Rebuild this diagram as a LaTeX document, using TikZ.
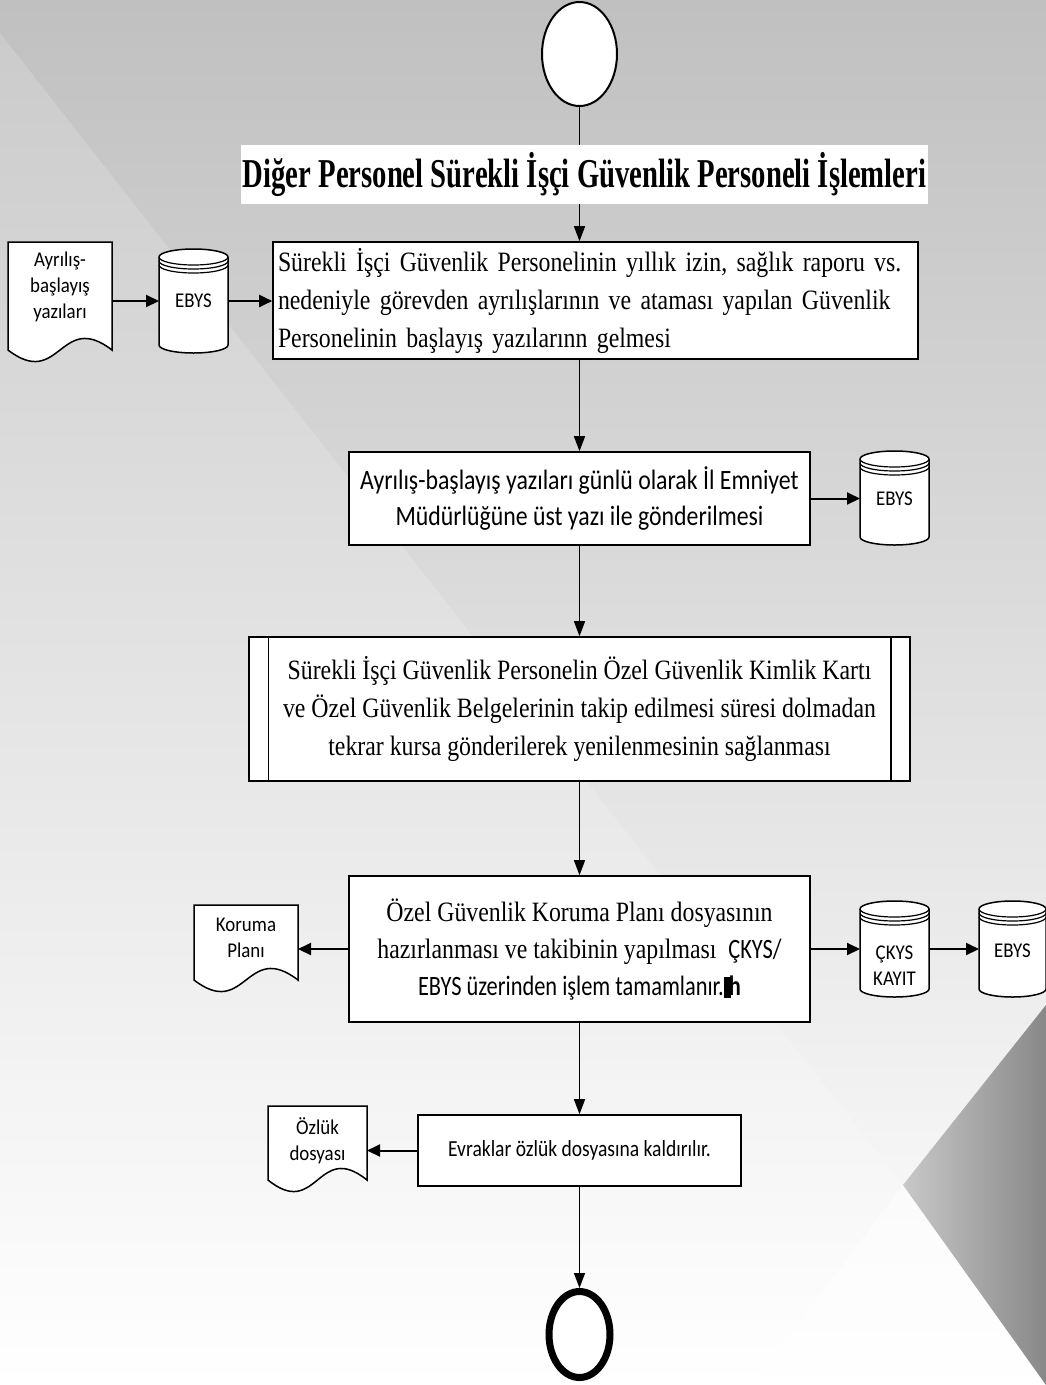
\documentclass[tikz,border=0pt]{standalone}
\usepackage{fontspec}
\setmainfont{Liberation Serif}
\newfontfamily\serifbody[FakeStretch=0.85]{Liberation Serif}
\newfontfamily\seriftitle[FakeStretch=0.70]{Liberation Serif}
\newfontfamily\sansbody[FakeStretch=0.85]{Carlito}
\newfontfamily\sansnarrow[FakeStretch=0.8]{Carlito}
\newfontfamily\sanssmall[FakeStretch=0.9]{Carlito}
\usetikzlibrary{arrows.meta,calc,shapes.geometric}

\definecolor{bgtop}{HTML}{C0C0C0}
\definecolor{bgmid}{HTML}{DCDCDC}
\definecolor{bandtop}{HTML}{CBCBCB}
\definecolor{bandmid}{HTML}{E3E3E3}
\definecolor{wedgelight}{HTML}{C8C8C8}
\definecolor{wedgedark}{HTML}{888888}

% database cylinder: left, top, right, bottom
\newcommand\dbshape[4]{%
  \path[draw, fill=white, line width=1.5pt]
    (#1,#2+8) -- (#1,#4-8)
    arc[start angle=180, end angle=0, x radius={(#3-#1)/2}, y radius=8]
    -- (#3,#2+8)
    arc[start angle=0, end angle=-180, x radius={(#3-#1)/2}, y radius=8]
    -- cycle;
  \draw[line width=1.2pt] (#1,#2+8) arc[start angle=180, end angle=0, x radius={(#3-#1)/2}, y radius=8];
  \draw[line width=1.2pt] (#1,#2+12) arc[start angle=180, end angle=0, x radius={(#3-#1)/2}, y radius=8];
  \draw[line width=1.2pt] (#1,#2+16) arc[start angle=180, end angle=0, x radius={(#3-#1)/2}, y radius=8];
}
% document sheet with wavy lower edge: left, top, right, side bottom
\newcommand\docshape[4]{%
  \path[draw, fill=white, line width=1.5pt]
    (#1,#4) -- (#1,#2) -- (#3,#2) -- (#3,#4)
    .. controls ({(#1+#3)/2},#4-40) and ({(#1+#3)/2},#4+40) .. (#1,#4) -- cycle;
}

\begin{document}
\begin{tikzpicture}[x=1pt,y=-1pt,
  box/.style={draw, line width=1.6pt, fill=white, inner sep=0pt, align=center},
  lbl/.style={inner sep=0pt, outer sep=0pt, align=center,
    font=\sanssmall\fontsize{21}{26}\selectfont},
  vline/.style={line width=1.4pt},
  vconn/.style={line width=1.4pt, -{Triangle[length=15pt,width=11pt]}},
  hconn/.style={line width=2pt, -{Triangle[length=13pt,width=12pt]}}]

\useasboundingbox (0,0) rectangle (1046,1385);

% background
\shade[top color=bgtop, middle color=bgmid, bottom color=white] (0,0) rectangle (1046,1385);
\shade[top color=bandtop, middle color=bandmid, bottom color=white]
  (0,33) -- (903,1185) -- (751,1385) -- (0,1385) -- cycle;
\fill[white, opacity=0.6] (903,1185) -- (751,1385) -- (1046,1385) -- cycle;
\shade[left color=wedgelight, right color=wedgedark]
  (903,1185) -- (1046,1005) -- (1046,1385) -- cycle;

% terminals
\node[draw, ellipse, line width=2pt, fill=white, minimum width=75pt,
  minimum height=104pt, inner sep=0pt] (start) at (579.5,54) {};
\node[draw, ellipse, line width=7pt, fill=white, minimum width=61pt,
  minimum height=86pt, inner sep=0pt] (end) at (579.5,1334.5) {};

% heading
\node[fill=white, inner sep=0pt, minimum width=687pt, minimum height=59pt,
  font=\seriftitle\bfseries\fontsize{41}{44}\selectfont] (title) at (584.5,174.5)
  {Diğer Personel Sürekli İşçi Güvenlik Personeli İşlemleri};

% process boxes
\node[box, minimum width=645pt, minimum height=117pt, text width=635pt, align=left,
  font=\serifbody\fontsize{28}{38}\selectfont] (b1) at (595.5,300.5)
  {\mbox{Sürekli İşçi Güvenlik Personelinin yıllık izin, sağlık raporu vs.}\\
   \mbox{nedeniyle görevden ayrılışlarının ve ataması yapılan Güvenlik}\\
   \mbox{Personelinin başlayış yazılarınn gelmesi}};

\node[box, minimum width=461pt, minimum height=93pt,
  font=\sansbody\fontsize{28}{36}\selectfont] (b2) at (579.5,498.5)
  {Ayrılış-başlayış yazıları günlü olarak İl Emniyet\\
   Müdürlüğüne üst yazı ile gönderilmesi};

\node[box, minimum width=661pt, minimum height=144pt,
  font=\serifbody\fontsize{28}{38}\selectfont] (b3) at (579.5,709)
  {Sürekli İşçi Güvenlik Personelin Özel Güvenlik Kimlik Kartı\\
   ve Özel Güvenlik Belgelerinin takip edilmesi süresi dolmadan\\
   tekrar kursa gönderilerek yenilenmesinin sağlanması};
\draw[line width=1.4pt] ([xshift=20pt]b3.north west) -- ([xshift=20pt]b3.south west);
\draw[line width=1.4pt] ([xshift=-20pt]b3.north east) -- ([xshift=-20pt]b3.south east);

\node[box, minimum width=461pt, minimum height=146pt,
  font=\serifbody\fontsize{28}{37}\selectfont] (b4) at (579.5,949)
  {Özel Güvenlik Koruma Planı dosyasının\\
   hazırlanması ve takibinin yapılması\ \ {\sansnarrow ÇKYS/}\\
   {\sansnarrow EBYS üzerinden işlem tamamlanır.\rule[-3pt]{7pt}{21pt}\kern-2pt\bfseries h}};

\node[box, minimum width=323pt, minimum height=71pt,
  font=\sansbody\fontsize{23}{28}\selectfont] (b5) at (579.5,1150.5)
  {Evraklar özlük dosyasına kaldırılır.};

% document sheets
\docshape{8}{242}{112}{350}
\node[lbl, minimum width=104pt] (d1) at (60,287) {Ayrılış-\\başlayış\\yazıları};
\docshape{194}{905}{298}{980}
\node[lbl, minimum width=104pt] (d2) at (246,938) {Koruma\\Planı};
\docshape{268}{1106}{367}{1180}
\node[lbl, minimum width=99pt] (d3) at (317.5,1141) {Özlük\\dosyası};

% databases
\dbshape{159}{249}{228}{353}
\node[lbl, minimum width=69pt] (e1) at (193.5,301) {EBYS};
\dbshape{860}{451}{929}{545}
\node[lbl, minimum width=69pt] (e2) at (894.5,499) {EBYS};
\dbshape{860}{901}{929}{997}
\node[lbl, minimum width=69pt] (c1) at (894.5,966) {ÇKYS\\KAYIT};
\dbshape{979}{901}{1046}{997}
\node[lbl, minimum width=67pt] (e3) at (1012.5,951) {EBYS};

% main flow, along the axis of the start terminal
\draw[vline] (start.south) -- (start.south |- title.north);
\draw[vconn] (start.south |- title.south) -- (start.south |- b1.north);
\draw[vconn] (start.south |- b1.south) -- (b2.north);
\draw[vconn] (b2.south) -- (b3.north);
\draw[vconn] (b3.south) -- (b4.north);
\draw[vconn] (b4.south) -- (b5.north);
\draw[vconn] (b5.south) -- (end.north);

% side flows
\draw[hconn] (d1.east |- e1.west) -- (e1.west);
\draw[hconn] (e1.east) -- (b1.west |- e1.east);
\draw[hconn] (b2.east) -- (b2.east -| e2.west);
\draw[hconn] (b4.west) -- (b4.west -| d2.east);
\draw[hconn] (b4.east) -- (b4.east -| c1.west);
\draw[hconn] (b4.east -| c1.east) -- (b4.east -| e3.west);
\draw[hconn] (b5.west) -- (b5.west -| d3.east);
\end{tikzpicture}
\end{document}
